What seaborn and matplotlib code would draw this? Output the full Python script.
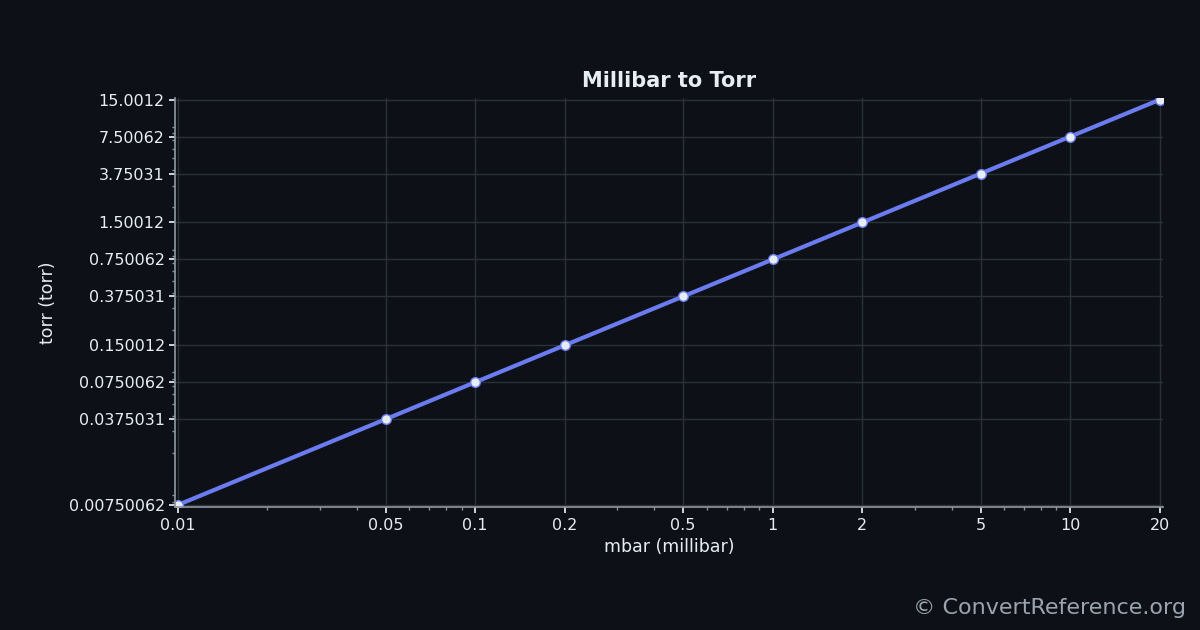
import matplotlib
matplotlib.use("Agg")
import matplotlib.pyplot as plt
import matplotlib.ticker as mticker
import seaborn as sns
import pandas as pd

mbar = [0.01, 0.05, 0.1, 0.2, 0.5, 1, 2, 5, 10, 20]
torr = [0.00750062, 0.0375031, 0.0750062, 0.150012, 0.375031, 0.750062, 1.50012, 3.75031, 7.50062, 15.0012]
x_labels = ["0.01", "0.05", "0.1", "0.2", "0.5", "1", "2", "5", "10", "20"]
y_labels = ["0.00750062", "0.0375031", "0.0750062", "0.150012", "0.375031",
            "0.750062", "1.50012", "3.75031", "7.50062", "15.0012"]

BG = "#0d1117"
FG = "#e6edf3"

sns.set_theme(style="dark")
plt.rcParams['font.family'] = ['DejaVu Sans']

df = pd.DataFrame({"mbar": mbar, "torr": torr})

fig = plt.figure(figsize=(12, 6.3), dpi=100, facecolor=BG)
ax = fig.add_axes([0.146, 0.195, 0.823, 0.65])
ax.set_facecolor(BG)

sns.lineplot(data=df, x="mbar", y="torr", ax=ax, color="#6b7bf0", linewidth=3,
             marker="o", markersize=7, markerfacecolor="#e6edf3",
             markeredgecolor="#6b7bf0", markeredgewidth=1)

ax.set_xscale("log")
ax.set_yscale("log")
ax.set_xlim(0.0098, 20.5)
ax.set_ylim(0.0072, 15.6)
ax.xaxis.set_major_locator(mticker.FixedLocator(mbar))
ax.xaxis.set_major_formatter(mticker.FixedFormatter(x_labels))
ax.yaxis.set_major_locator(mticker.FixedLocator(torr))
ax.yaxis.set_major_formatter(mticker.FixedFormatter(y_labels))
ax.xaxis.set_minor_formatter(mticker.NullFormatter())
ax.yaxis.set_minor_formatter(mticker.NullFormatter())

ax.grid(True, which="major", color="#2a313b", linewidth=1)
ax.tick_params(axis="both", which="major", colors=FG, labelsize=11.5, length=4, direction="out",
               bottom=True, left=True)
ax.tick_params(axis="both", which="minor", colors="#8b949e", length=2.5, bottom=True, left=True)
for s in ["top", "right"]:
    ax.spines[s].set_visible(False)
for s in ["left", "bottom"]:
    ax.spines[s].set_color("#8b949e")

ax.set_xlabel("mbar (millibar)", color=FG, fontsize=12.5, labelpad=4)
ax.set_ylabel("torr (torr)", color=FG, fontsize=12.5, labelpad=8)
ax.set_title("Millibar to Torr", color=FG, fontsize=15, fontweight="bold", pad=8)

fig.text(0.988, 0.035, "© ConvertReference.org", color="#9aa4ae", fontsize=16,
         ha="right", va="center")

fig.savefig("out.png", dpi=100, facecolor=BG)
